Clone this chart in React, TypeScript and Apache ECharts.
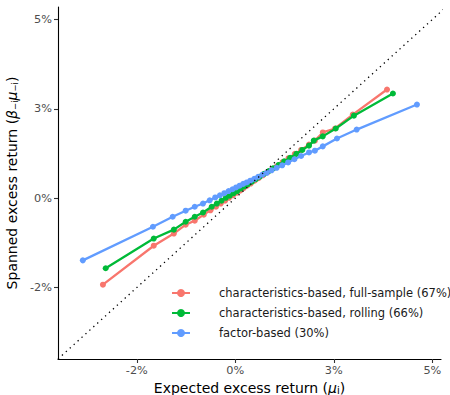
import React, { useEffect, useRef } from "react";
import * as echarts from "echarts";

const seriesNames = [
  "characteristics-based, full-sample (67%)",
  "characteristics-based, rolling (66%)",
  "factor-based (30%)",
];
const seriesColors = ["#F8766D", "#00BA38", "#619CFF"];

const fullSampleX = [-3.36, -2.07, -1.56, -1.26, -1.03, -0.80, -0.63, -0.49, -0.37, -0.26, -0.16, -0.06, 0.03, 0.12, 0.21, 0.30, 0.39, 0.49, 0.59, 0.70, 0.81, 0.93, 1.06, 1.20, 1.35, 1.51, 1.67, 1.87, 2.02, 2.22, 2.53, 2.98, 3.85];
const fullSampleY = [-2.42, -1.33, -0.99, -0.74, -0.63, -0.46, -0.34, -0.24, -0.15, -0.07, 0.01, 0.08, 0.15, 0.21, 0.28, 0.35, 0.41, 0.49, 0.56, 0.64, 0.72, 0.81, 0.90, 1.01, 1.12, 1.24, 1.35, 1.50, 1.61, 1.84, 1.95, 2.34, 3.04];

const rollingX = [-3.29, -2.07, -1.56, -1.26, -1.03, -0.82, -0.60, -0.47, -0.35, -0.24, -0.14, -0.04, 0.05, 0.14, 0.23, 0.32, 0.42, 0.52, 0.62, 0.73, 0.85, 0.97, 1.10, 1.24, 1.39, 1.55, 1.70, 1.87, 1.99, 2.22, 2.55, 3.01, 4.00];
const rollingY = [-1.96, -1.13, -0.88, -0.66, -0.52, -0.40, -0.24, -0.15, -0.07, 0.01, 0.07, 0.14, 0.20, 0.27, 0.33, 0.39, 0.46, 0.53, 0.60, 0.68, 0.76, 0.84, 0.93, 1.03, 1.13, 1.24, 1.35, 1.47, 1.61, 1.73, 1.95, 2.31, 2.93];

const factorX = [-3.87, -2.09, -1.59, -1.26, -1.03, -0.82, -0.65, -0.51, -0.39, -0.28, -0.17, -0.07, 0.02, 0.11, 0.20, 0.29, 0.38, 0.48, 0.58, 0.69, 0.80, 0.92, 1.05, 1.19, 1.34, 1.50, 1.67, 1.87, 2.02, 2.22, 2.58, 3.08, 4.61];
const factorY = [-1.74, -0.80, -0.52, -0.35, -0.24, -0.15, -0.06, 0.02, 0.08, 0.14, 0.20, 0.25, 0.30, 0.35, 0.40, 0.44, 0.49, 0.54, 0.60, 0.66, 0.71, 0.78, 0.85, 0.92, 1.00, 1.09, 1.18, 1.28, 1.33, 1.45, 1.67, 1.92, 2.62];

const diagonal = [-4.5, 5.4];

const xTickValues = [-2.5, 0, 2.5, 5];
const xTickLabels = ["-2%", "0%", "3%", "5%"];
const yTickValues = [-2.5, 0, 2.5, 5];
const yTickLabels = ["-2%", "0%", "3%", "5%"];

const xRange = [-4.5, 5.22];
const yRange = [-4.5, 5.35];

const FONT = "'DejaVu Sans', sans-serif";

function zip(xs: number[], ys: number[]) {
  return xs.map((x, i) => [x, ys[i]]);
}

export default function App() {
  const ref = useRef<HTMLDivElement>(null);
  useEffect(() => {
    if (!ref.current) return;
    const chart = echarts.init(ref.current, undefined, { renderer: "svg" });
    const dataSets = [zip(fullSampleX, fullSampleY), zip(rollingX, rollingY), zip(factorX, factorY)];
    const lineSeries = dataSets.map((d, i) => ({
      name: seriesNames[i],
      type: "line",
      data: d,
      symbol: "circle",
      symbolSize: 6,
      showSymbol: true,
      color: seriesColors[i],
      lineStyle: { width: 2.3, color: seriesColors[i] },
      itemStyle: { color: seriesColors[i] },
      z: 2 + i,
    }));
    const xLabelFor = (v: number) => {
      const idx = xTickValues.findIndex((t) => Math.abs(t - v) < 1e-6);
      return idx >= 0 ? xTickLabels[idx] : "";
    };
    const yLabelFor = (v: number) => {
      const idx = yTickValues.findIndex((t) => Math.abs(t - v) < 1e-6);
      return idx >= 0 ? yTickLabels[idx] : "";
    };
    const axisCommon = {
      type: "value",
      axisLine: { show: true, onZero: false, lineStyle: { color: "#000", width: 1.1 } },
      axisTick: { show: true, length: 4, lineStyle: { color: "#333", width: 1.1 } },
      splitLine: { show: false },
      nameLocation: "middle",
    };
    const xNameRich = {
      it: { fontStyle: "italic", fontSize: 14, color: "#000", fontFamily: FONT },
      sub: { fontSize: 10, color: "#000", fontFamily: FONT, padding: [6, 0, 0, 0] },
    };
    const yNameRich = {
      it: { fontStyle: "italic", fontSize: 14, color: "#000", fontFamily: FONT },
      sub: { fontSize: 8.5, color: "#000", fontFamily: FONT, padding: [6, 0, 0, 0] },
    };
    chart.setOption({
      animation: false,
      backgroundColor: "#fff",
      textStyle: { fontFamily: FONT },
      grid: { left: 58, right: 9, top: 7, bottom: 36, containLabel: false, outerBoundsMode: "none" },
      legend: {
        orient: "vertical",
        left: 166,
        top: 282,
        itemWidth: 18,
        itemHeight: 10,
        itemGap: 8,
        data: seriesNames,
        textStyle: { fontFamily: FONT, fontSize: 11.5, color: "#1a1a1a", padding: [0, 0, 0, 24] },
      },
      xAxis: {
        ...axisCommon,
        min: xRange[0],
        max: xRange[1],
        axisTick: { ...axisCommon.axisTick, customValues: xTickValues },
        axisLabel: {
          customValues: xTickValues,
          formatter: (v: number) => xLabelFor(v),
          color: "#4d4d4d",
          fontSize: 11.3,
          margin: 6,
          fontFamily: FONT,
        },
        name: "Expected excess return ({it|μ}{sub|i})",
        nameGap: 16,
        nameTextStyle: { fontSize: 14, color: "#000", fontFamily: FONT, rich: xNameRich },
      },
      yAxis: {
        ...axisCommon,
        min: yRange[0],
        max: yRange[1],
        axisTick: { ...axisCommon.axisTick, customValues: yTickValues },
        axisLabel: {
          customValues: yTickValues,
          formatter: (v: number) => yLabelFor(v),
          color: "#4d4d4d",
          fontSize: 11.3,
          margin: 6,
          fontFamily: FONT,
        },
        name: "Spanned excess return ({it|β}{sub|−i}{it|μ}{sub|−i})",
        nameGap: 29,
        nameRotate: 90,
        nameTextStyle: { fontSize: 14, color: "#000", fontFamily: FONT, rich: yNameRich },
      },
      series: [
        ...lineSeries,
        {
          name: "diagonal",
          type: "line",
          data: diagonal.map((v) => [v, v]),
          symbol: "none",
          silent: true,
          lineStyle: { color: "#000", width: 1.3, type: [1.3, 4] },
          z: 10,
        },
      ],
    });
    return () => chart.dispose();
  }, []);
  return <div ref={ref} style={{ width: 450, height: 395, position: "absolute", left: 0, top: 0 }} />;
}
